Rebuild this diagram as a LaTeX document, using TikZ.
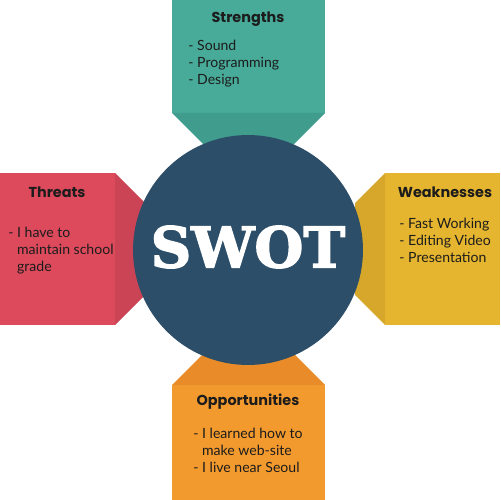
\documentclass[tikz,border=0pt]{standalone}
\usepackage{fontspec}
\setmainfont{Poppins}
\newfontfamily\listfont{Lato}
\newfontfamily\slabfont{DejaVu Serif}[BoldFeatures={FakeBold=2.5}]
\definecolor{swteal}{HTML}{48AA98}
\definecolor{swtealdk}{HTML}{409C8C}
\definecolor{swred}{HTML}{DC4A5C}
\definecolor{swreddk}{HTML}{CB4456}
\definecolor{swyellow}{HTML}{E5B52F}
\definecolor{swyellowdk}{HTML}{D6A72B}
\definecolor{sworange}{HTML}{F39A2E}
\definecolor{sworangedk}{HTML}{E88B28}
\definecolor{swnavy}{HTML}{2C4E68}
\definecolor{swtext}{HTML}{1C1C1C}
\tikzset{
  boxtitle/.style={text=swtext,font=\fontsize{8.2}{10}\selectfont\bfseries,inner sep=0},
  boxlist/.style={text=swtext,font=\listfont\fontsize{8}{9.6}\selectfont,align=left,anchor=north west,inner sep=0}
}
\begin{document}
\begin{tikzpicture}[x=0.02cm,y=-0.02cm]
\useasboundingbox (0,0) rectangle (500,500);
% strengths
\fill[swteal] (172,0) rectangle (325,113);
\fill[swtealdk] (172,113)--(325,113)--(290,148)--(207,148)--cycle;
% threats
\fill[swred] (0,173) rectangle (115,325);
\fill[swreddk] (115,173)--(145,203)--(145,295)--(115,325)--cycle;
% weaknesses
\fill[swyellow] (385,173) rectangle (500,325);
\fill[swyellowdk] (385,173)--(355,203)--(355,295)--(385,325)--cycle;
% opportunities
\fill[sworange] (172,385) rectangle (325,500);
\fill[sworangedk] (172,385)--(207,350)--(290,350)--(325,385)--cycle;
% center
\node[circle,fill=swnavy,minimum size=4.6cm,inner sep=0] (swot) at (248,250) {};
\node[text=white,font=\slabfont\fontsize{32}{34}\selectfont\bfseries] (swotlabel) at (248,247) {SWOT};
% texts
\node[boxtitle] (strtitle) at (248,19) {Strengths};
\node[boxlist] (strlist) at (188,40) {- Sound\\- Programming\\- Design};
\node[boxtitle] (thrtitle) at (57,192) {Threats};
\node[boxlist] (thrlist) at (8,227) {- I have to\\\phantom{- }maintain school\\\phantom{- }grade};
\node[boxtitle] (weaktitle) at (445,192) {Weaknesses};
\node[boxlist] (weaklist) at (399,218) {- Fast Working\\- Editing Video\\- Presentation};
\node[boxtitle] (opptitle) at (248,402) {Opportunities};
\node[boxlist] (opplist) at (193,428) {- I learned how to\\\phantom{- }make web-site\\- I live near Seoul};
\end{tikzpicture}
\end{document}
